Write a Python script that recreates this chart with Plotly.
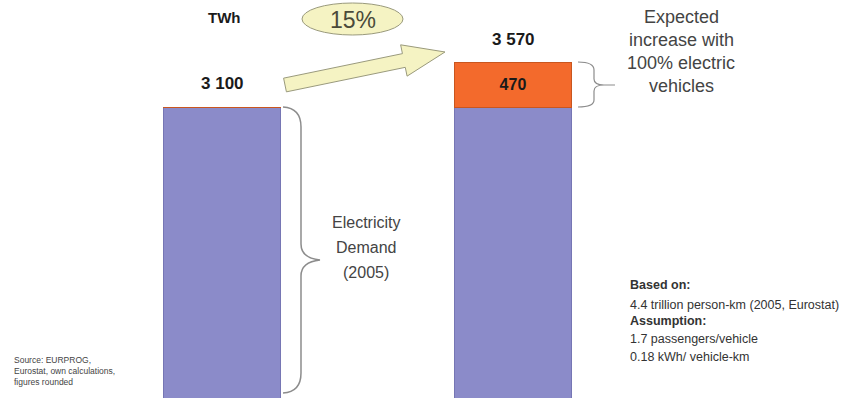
import math
import plotly.graph_objects as go

# Electricity demand in the EU (TWh)
scenarios = ["Demand 2005", "With 100% EVs"]
base_demand = [3100, 3100]
ev_increase = [0, 470]
growth_label = "15%"

W, H = 847, 398
FONT = "Arial, Liberation Sans, sans-serif"
BLUE = "#8b8bc9"
ORANGE = "#f36a2c"
GREY = "#8c8c8c"


def fmt(v):
    return f"{v:,}".replace(",", " ")


def px(x, y):
    """Canvas pixel -> paper coordinates (margins are zero)."""
    return x / W, 1 - y / H


def path_from(points_cmds):
    out = []
    for cmd, *pts in points_cmds:
        coords = []
        for (x, y) in pts:
            a, b = px(x, y)
            coords.append(f"{a:.5f},{b:.5f}")
        out.append(cmd + " " + " ".join(coords))
    return " ".join(out)


totals = [b + e for b, e in zip(base_demand, ev_increase)]

fig = go.Figure()
fig.add_trace(go.Bar(
    x=[0, 1], y=base_demand, width=0.405,
    marker=dict(color=BLUE, line=dict(color="#7676b4", width=1)),
    hoverinfo="skip", showlegend=False,
))
fig.add_trace(go.Bar(
    x=[0, 1], y=ev_increase, width=0.405,
    marker=dict(color=ORANGE, line=dict(color="#c9561f", width=1)),
    text=["" if v == 0 else f"<b>{fmt(v)}</b>" for v in ev_increase],
    textposition="inside", insidetextanchor="middle",
    textfont=dict(family=FONT, size=16, color="#1a1a1a"),
    hoverinfo="skip", showlegend=False,
))

# Totals above the bars
annotations = []
for i, t in enumerate(totals):
    annotations.append(dict(
        x=i, y=t, xref="x", yref="y", text=f"<b>{fmt(t)}</b>",
        showarrow=False, yanchor="bottom", yshift=12,
        font=dict(family=FONT, size=17, color="#1a1a1a"),
    ))


def text_px(x, y, txt, size, color="#444444", anchor="center"):
    a, b = px(x, y)
    annotations.append(dict(
        x=a, y=b, xref="paper", yref="paper", text=txt, showarrow=False,
        xanchor=anchor, yanchor="middle", align=anchor if anchor != "center" else "center",
        font=dict(family=FONT, size=size, color=color),
    ))


text_px(224, 17, "<b>TWh</b>", 15, "#1a1a1a")
text_px(353, 20, growth_label, 23, "#4a4a3a")

for yy, line in zip([17, 40, 63, 86],
                    ["Expected", "increase with", "100% electric", "vehicles"]):
    text_px(681, yy, line, 18)

for yy, line in zip([222, 247, 272], ["Electricity", "Demand", "(2005)"]):
    text_px(366, yy, line, 16)

notes = [
    (285, "<b>Based on:</b>"),
    (305, "4.4 trillion person-km (2005, Eurostat)"),
    (321, "<b>Assumption:</b>"),
    (339, "1.7 passengers/vehicle"),
    (357, "0.18 kWh/ vehicle-km"),
]
for yy, line in notes:
    text_px(628, yy, line, 12.5, "#333333", anchor="left")

# Source note as one three-line block
text_px(12, 371, "Source: EURPROG,<br>Eurostat, own calculations,<br>figures rounded",
        8.5, "#444444", anchor="left")

shapes = []

# Ellipse holding the growth percentage
x0, y1 = px(302, 3)
x1, y0 = px(403, 35)
shapes.append(dict(type="circle", xref="paper", yref="paper",
                   x0=x0, x1=x1, y0=y0, y1=y1,
                   fillcolor="#f5f3c3", line=dict(color="#9a9a7c", width=1), layer="below"))

# Block arrow from the first bar to the second
cx, cy = 285, 85
tx, ty = 445, 52
L = math.hypot(tx - cx, ty - cy)
ux, uy = (tx - cx) / L, (ty - cy) / L
nx, ny = -uy, ux
sw, hw, hl = 7, 16, 42
bx, by = cx + (L - hl) * ux, cy + (L - hl) * uy
pts = [
    (cx - sw * nx, cy - sw * ny),
    (bx - sw * nx, by - sw * ny),
    (bx - hw * nx, by - hw * ny),
    (tx, ty),
    (bx + hw * nx, by + hw * ny),
    (bx + sw * nx, by + sw * ny),
    (cx + sw * nx, cy + sw * ny),
]
arrow = "M " + " L ".join("{:.5f},{:.5f}".format(*px(x, y)) for x, y in pts) + " Z"
shapes.append(dict(type="path", xref="paper", yref="paper", path=arrow,
                   fillcolor="#f5f3c3", line=dict(color="#9a9a7c", width=1), layer="above"))

# Brace spanning the 2005 demand
big_brace = path_from([
    ("M", (283, 107)),
    ("Q", (301, 108), (301, 127)),
    ("L", (301, 244)),
    ("Q", (301, 258), (320, 260)),
    ("Q", (301, 262), (301, 276)),
    ("L", (301, 373)),
    ("Q", (301, 392), (283, 393)),
])
shapes.append(dict(type="path", xref="paper", yref="paper", path=big_brace,
                   line=dict(color=GREY, width=1.5), layer="above"))

# Brace spanning the EV increase
small_brace = path_from([
    ("M", (578, 62)),
    ("Q", (594, 62), (594, 70)),
    ("L", (594, 79)),
    ("Q", (594, 85), (604, 85)),
    ("L", (615, 85)),
    ("M", (604, 85)),
    ("Q", (594, 85), (594, 91)),
    ("L", (594, 100)),
    ("Q", (594, 107), (578, 107)),
])
shapes.append(dict(type="path", xref="paper", yref="paper", path=small_brace,
                   line=dict(color=GREY, width=1.2), layer="above"))

fig.update_layout(
    width=W, height=H,
    margin=dict(l=0, r=0, t=0, b=0),
    barmode="stack",
    paper_bgcolor="white", plot_bgcolor="white",
    xaxis=dict(range=[-222 / 291, (W - 222) / 291], visible=False, fixedrange=True),
    yaxis=dict(range=[0, 4240], visible=False, fixedrange=True),
    annotations=annotations,
    shapes=shapes,
)

fig.write_html("out.html")
